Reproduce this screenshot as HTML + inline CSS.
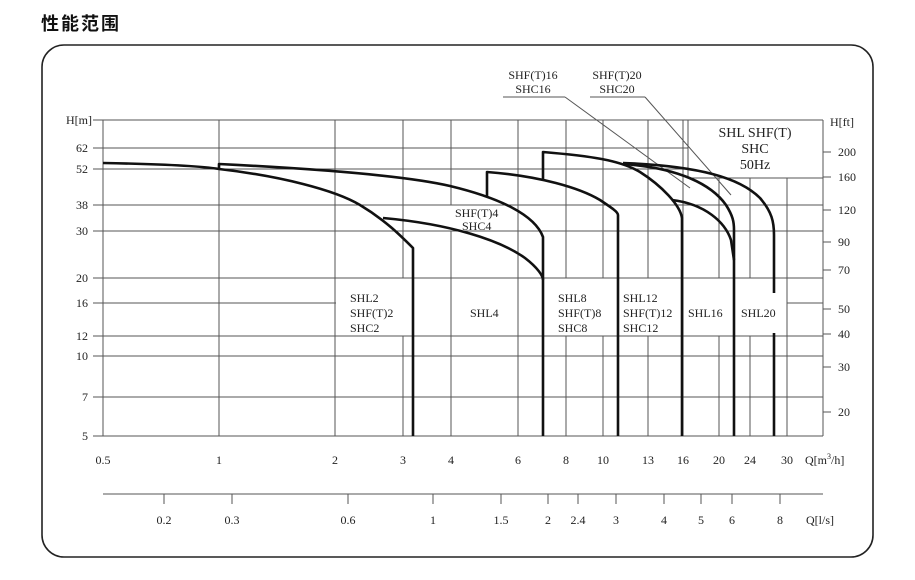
<!DOCTYPE html>
<html><head><meta charset="utf-8"><style>
body{margin:0;background:#fff;width:915px;height:580px;overflow:hidden}
svg{display:block}
text{font-family:"Liberation Serif",serif;font-size:12px;fill:#222}
</style></head><body>
<svg width="915" height="580" viewBox="0 0 915 580">
<text x="41" y="30" style="font-family:'Liberation Sans','Noto Sans CJK SC',sans-serif;font-size:18px;font-weight:bold;fill:#111;letter-spacing:2px">性能范围</text>
<rect x="42" y="45" width="831" height="512" rx="22" fill="none" stroke="#222" stroke-width="1.6"/>
<g stroke="#555" stroke-width="1" fill="none">
<!-- horizontals -->
<line x1="93" y1="120" x2="823" y2="120"/>
<line x1="93" y1="148" x2="688" y2="148"/>
<line x1="93" y1="169" x2="688" y2="169"/>
<line x1="93" y1="205" x2="823" y2="205"/>
<line x1="93" y1="231" x2="823" y2="231"/>
<line x1="93" y1="278" x2="823" y2="278"/>
<line x1="93" y1="303" x2="336" y2="303"/>
<line x1="787" y1="303" x2="823" y2="303"/>
<line x1="93" y1="336" x2="823" y2="336"/>
<line x1="93" y1="356" x2="823" y2="356"/>
<line x1="93" y1="397" x2="823" y2="397"/>
<line x1="93" y1="436" x2="823" y2="436"/>
<!-- verticals -->
<line x1="103" y1="120" x2="103" y2="436"/>
<line x1="219" y1="120" x2="219" y2="436"/>
<line x1="335" y1="120" x2="335" y2="436"/>
<line x1="403" y1="120" x2="403" y2="278"/><line x1="403" y1="336" x2="403" y2="436"/>
<line x1="451" y1="120" x2="451" y2="205"/><line x1="451" y1="231" x2="451" y2="436"/>
<line x1="518" y1="120" x2="518" y2="436"/>
<line x1="566" y1="120" x2="566" y2="278"/><line x1="566" y1="336" x2="566" y2="436"/>
<line x1="603" y1="120" x2="603" y2="278"/><line x1="603" y1="336" x2="603" y2="436"/>
<line x1="648" y1="120" x2="648" y2="278"/><line x1="648" y1="336" x2="648" y2="436"/>
<line x1="683" y1="120" x2="683" y2="436"/>
<line x1="719" y1="178" x2="719" y2="278"/><line x1="719" y1="336" x2="719" y2="436"/>
<line x1="750" y1="178" x2="750" y2="278"/><line x1="750" y1="336" x2="750" y2="436"/>
<line x1="787" y1="178" x2="787" y2="436"/>
<line x1="823" y1="120" x2="823" y2="436"/>
<line x1="688" y1="120" x2="688" y2="178"/><line x1="688" y1="178" x2="823" y2="178"/>
<!-- right ticks -->
<path d="M823,152h8M823,177h8M823,210h8M823,242h8M823,270h8M823,309h8M823,334h8M823,367h8M823,412h8"/>
<!-- l/s axis -->
<line x1="103" y1="494" x2="823" y2="494"/>
<path d="M164,494v10M232,494v10M348,494v10M433,494v10M501,494v10M548,494v10M578,494v10M616,494v10M664,494v10M701,494v10M732,494v10M780,494v10"/>
<!-- annotation leaders -->
<line x1="503" y1="97" x2="565" y2="97"/><line x1="565" y1="97" x2="690" y2="188"/>
<line x1="590" y1="97" x2="645" y2="97"/><line x1="645" y1="97" x2="731" y2="195"/>
</g>
<g stroke="#111" stroke-width="2.6" fill="none" stroke-linejoin="round">
<path d="M103,163 C160,164 200,166 219,169 C280,176 335,190 360,205 C385,220 400,235 413,248 L413,436"/>
<path d="M219,169 L219,164 C300,168 403,175 450,186 C500,198 535,215 543,237 L543,436"/>
<path d="M383,218 C450,224 500,240 525,258 C538,268 543,276 543,280"/>
<path d="M487,196 L487,172 C540,176 580,188 600,200 C612,208 618,212 618,215 L618,436"/>
<path d="M543,180 L543,152 C590,156 620,160 640,172 C662,186 680,205 682,218 L682,436"/>
<path d="M623,164 C680,168 712,185 726,205 C733,216 734,222 734,230 L734,436"/>
<path d="M672,200 C705,204 725,222 731,240 L734,260"/>
<path d="M623,163 C700,166 740,178 760,198 C772,212 774,222 774,235 L774,293"/>
<path d="M774,333 L774,436"/>
</g>
<g text-anchor="end">
<text x="92" y="124">H[m]</text>
<text x="88" y="152">62</text><text x="88" y="173">52</text><text x="88" y="209">38</text>
<text x="88" y="235">30</text><text x="88" y="282">20</text><text x="88" y="307">16</text>
<text x="88" y="340">12</text><text x="88" y="360">10</text><text x="88" y="401">7</text><text x="88" y="440">5</text>
</g>
<g>
<text x="830" y="126">H[ft]</text>
<text x="838" y="156">200</text><text x="838" y="181">160</text><text x="838" y="214">120</text>
<text x="838" y="246">90</text><text x="838" y="274">70</text><text x="838" y="313">50</text>
<text x="838" y="338">40</text><text x="838" y="371">30</text><text x="838" y="416">20</text>
</g>
<g text-anchor="middle">
<text x="103" y="464">0.5</text><text x="219" y="464">1</text><text x="335" y="464">2</text><text x="403" y="464">3</text>
<text x="451" y="464">4</text><text x="518" y="464">6</text><text x="566" y="464">8</text><text x="603" y="464">10</text>
<text x="648" y="464">13</text><text x="683" y="464">16</text><text x="719" y="464">20</text><text x="750" y="464">24</text><text x="787" y="464">30</text>
<text x="164" y="524">0.2</text><text x="232" y="524">0.3</text><text x="348" y="524">0.6</text><text x="433" y="524">1</text>
<text x="501" y="524">1.5</text><text x="548" y="524">2</text><text x="578" y="524">2.4</text><text x="616" y="524">3</text>
<text x="664" y="524">4</text><text x="701" y="524">5</text><text x="732" y="524">6</text><text x="780" y="524">8</text>
<text x="533" y="79">SHF(T)16</text><text x="533" y="93">SHC16</text>
<text x="617" y="79">SHF(T)20</text><text x="617" y="93">SHC20</text>
<text x="755" y="137" style="font-size:14px">SHL SHF(T)</text>
<text x="755" y="153" style="font-size:14px">SHC</text>
<text x="755" y="169" style="font-size:14px">50Hz</text>
</g>
<text x="805" y="464">Q[m<tspan dy="-5" style="font-size:8px">3</tspan><tspan dy="5">/h]</tspan></text>
<text x="806" y="524">Q[l/s]</text>
<text x="350" y="302">SHL2</text><text x="350" y="317">SHF(T)2</text><text x="350" y="332">SHC2</text>
<text x="470" y="317">SHL4</text>
<text x="455" y="217">SHF(T)4</text><text x="462" y="230">SHC4</text>
<text x="558" y="302">SHL8</text><text x="558" y="317">SHF(T)8</text><text x="558" y="332">SHC8</text>
<text x="623" y="302">SHL12</text><text x="623" y="317">SHF(T)12</text><text x="623" y="332">SHC12</text>
<text x="688" y="317">SHL16</text>
<text x="741" y="317">SHL20</text>
</svg>
</body></html>
